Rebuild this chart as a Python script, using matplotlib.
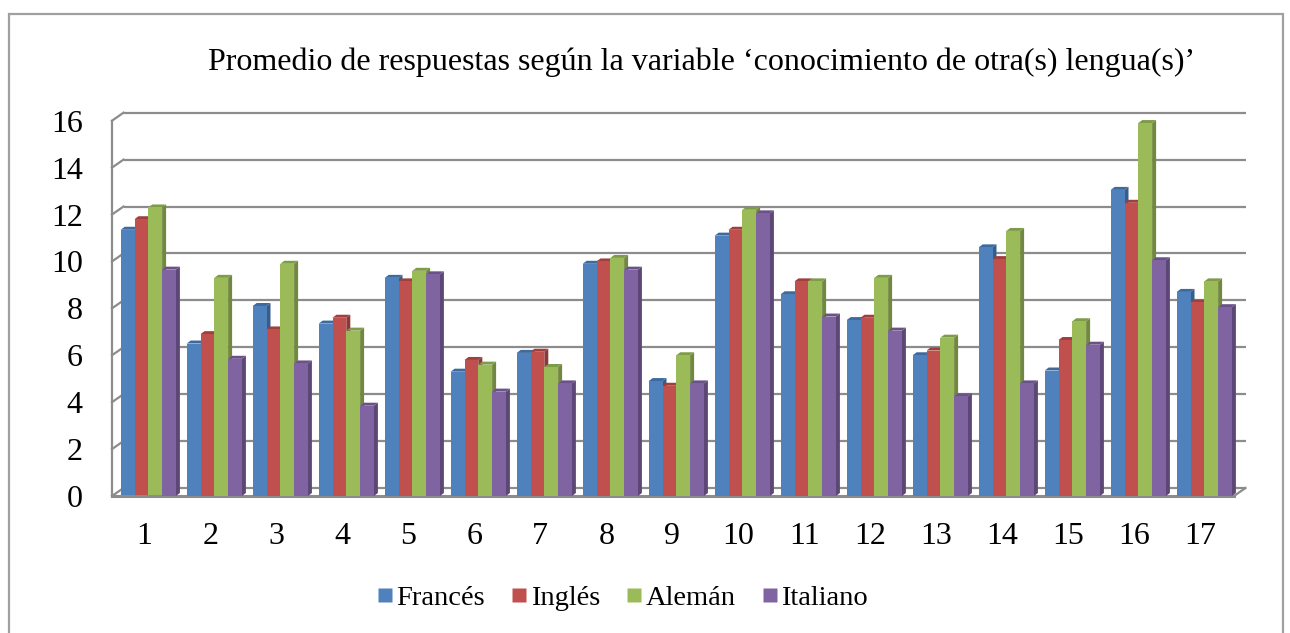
import matplotlib
matplotlib.use("Agg")
import matplotlib.pyplot as plt
import matplotlib.transforms as mtransforms
from matplotlib.patches import Polygon, Rectangle
from matplotlib.lines import Line2D
import numpy as np

categories = [str(i) for i in range(1, 18)]
series_names = ["Francés", "Inglés", "Alemán", "Italiano"]
frances  = [11.35, 6.5, 8.1, 7.35, 9.3, 5.3, 6.1, 9.9, 4.9, 11.1, 8.6, 7.5, 6.0, 10.6, 5.35, 13.05, 8.7]
ingles   = [11.8, 6.9, 7.1, 7.6, 9.15, 5.8, 6.15, 10.0, 4.7, 11.35, 9.15, 7.6, 6.2, 10.1, 6.65, 12.5, 8.25]
aleman   = [12.3, 9.3, 9.9, 7.05, 9.6, 5.6, 5.5, 10.15, 6.0, 12.2, 9.15, 9.3, 6.75, 11.3, 7.45, 15.9, 9.15]
italiano = [9.65, 5.85, 5.65, 3.85, 9.45, 4.45, 4.8, 9.65, 4.8, 12.05, 7.65, 7.05, 4.25, 4.8, 6.45, 10.05, 8.05]
values = [frances, ingles, aleman, italiano]
yticks = [0, 2, 4, 6, 8, 10, 12, 14, 16]

front_cols = ["#4F81BD", "#C0504D", "#9BBB59", "#8064A2"]
side_cols  = ["#385D8A", "#8C3836", "#71893F", "#5C4776"]
top_cols   = ["#3F6A9E", "#A0403D", "#7E9C48", "#6A5288"]
grid_col = "#8C8C8C"

W, H = 1290, 633
fig = plt.figure(figsize=(W / 100, H / 100), dpi=100)
plt.rcParams['font.family'] = ['Liberation Serif', 'DejaVu Serif']

ax_left, ax_right, ax_bottom, ax_top = 112, 1234, 496, 120.7
ax = fig.add_axes([ax_left / W, 1 - ax_bottom / H, (ax_right - ax_left) / W, (ax_bottom - ax_top) / H])
xlim = (-0.55, 16.45)
ax.set_xlim(*xlim)
ax.set_ylim(0, 16)
for s in ax.spines.values():
    s.set_visible(False)

pxx = (ax_right - ax_left) / (xlim[1] - xlim[0])
pxy = (ax_bottom - ax_top) / 16.0

# back wall offset
wx, wy = 11.5 / pxx, 8.0 / pxy
lw = 1.6
for yv in yticks:
    ax.plot([xlim[0] + wx, xlim[1] + wx], [yv + wy, yv + wy], color=grid_col, lw=lw, clip_on=False, zorder=1, solid_capstyle='butt')
    ax.plot([xlim[0], xlim[0] + wx], [yv, yv + wy], color=grid_col, lw=lw, clip_on=False, zorder=1)
# left wall front edge
ax.plot([xlim[0], xlim[0]], [0, 16], color=grid_col, lw=lw, clip_on=False, zorder=1)
# floor
ax.plot([xlim[0], xlim[1]], [0, 0], color=grid_col, lw=lw + 0.6, clip_on=False, zorder=5)
ax.plot([xlim[1], xlim[1] + wx], [0, wy], color=grid_col, lw=lw, clip_on=False, zorder=5)

# bars
n = len(series_names)
bw = 13.8 / pxx
dx, dy = 4.0 / pxx, 3.0 / pxy
x = np.arange(len(categories))
z = 2
for i in range(len(categories)):
    for k in range(n):
        h = values[k][i]
        x0 = x[i] + (k - n / 2) * bw
        x1 = x0 + bw
        side = Polygon([(x1, 0), (x1 + dx, dy), (x1 + dx, h + dy), (x1, h)], closed=True,
                       facecolor=side_cols[k], edgecolor='none', zorder=z, clip_on=False)
        top = Polygon([(x0, h), (x0 + dx, h + dy), (x1 + dx, h + dy), (x1, h)], closed=True,
                      facecolor=top_cols[k], edgecolor='none', zorder=z, clip_on=False)
        ax.add_patch(side)
        ax.add_patch(top)
        ax.bar(x0, h, width=bw, align='edge', color=front_cols[k], edgecolor='none', zorder=z + 0.5, clip_on=False)
        z += 1

ax.set_yticks(yticks)
ax.set_yticklabels([str(v) for v in yticks], fontsize=23)
ax.set_xticks(x)
ax.set_xticklabels(categories, fontsize=23)
ax.tick_params(axis='y', length=0, pad=21)
ax.tick_params(axis='x', length=0, pad=19)
shift = mtransforms.ScaledTranslation(-4 / 100, 0, fig.dpi_scale_trans)
for lab in ax.get_xticklabels():
    lab.set_transform(lab.get_transform() + shift)

fig.text(701.5 / W, 1 - 62 / H, "Promedio de respuestas según la variable ‘conocimiento de otra(s) lengua(s)’",
         ha='center', va='center', fontsize=23)

handles = [Line2D([], [], marker='s', linestyle='none', markersize=9.4, markerfacecolor=c, markeredgecolor='none')
           for c in front_cols]
fig.legend(handles, series_names, loc='center', bbox_to_anchor=(623 / W, 1 - 598 / H), ncol=4, frameon=False,
           fontsize=20.5, handlelength=0.5, handletextpad=0.15, columnspacing=0.95, borderaxespad=0)

# outer border
fig.add_artist(Rectangle((9 / W, -0.05), (1283 - 9) / W, 1 - 14 / H + 0.05, transform=fig.transFigure,
                         fill=False, edgecolor="#A0A0A0", lw=1.6))

fig.savefig("out.png", dpi=100)
